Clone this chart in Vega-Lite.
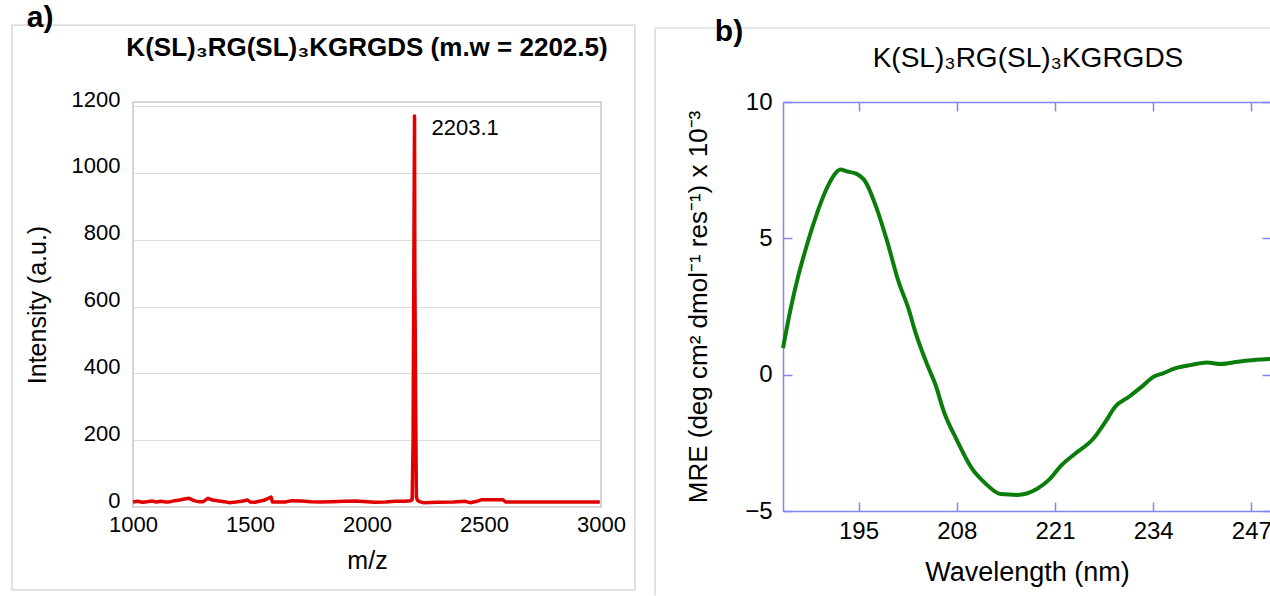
{
  "$schema": "https://vega.github.io/schema/vega-lite/v6.json",
  "padding": {"left": 10, "top": 2, "right": 0, "bottom": 0},
  "background": "white",
  "config": {"font": "Liberation Sans", "axis": {"labelColor": "black", "titleColor": "black", "titleFontWeight": "normal"}},
  "bounds": "flush",
  "spacing": 182,
  "datasets": {
    "ms": [
      {"mz": 1000, "intensity": 15}, {"mz": 1020, "intensity": 17}, {"mz": 1040, "intensity": 14}, {"mz": 1060, "intensity": 16},
      {"mz": 1080, "intensity": 18}, {"mz": 1100, "intensity": 15}, {"mz": 1120, "intensity": 17}, {"mz": 1140, "intensity": 15},
      {"mz": 1160, "intensity": 16}, {"mz": 1180, "intensity": 19}, {"mz": 1200, "intensity": 21}, {"mz": 1220, "intensity": 24},
      {"mz": 1240, "intensity": 26}, {"mz": 1260, "intensity": 19}, {"mz": 1280, "intensity": 16}, {"mz": 1300, "intensity": 16},
      {"mz": 1320, "intensity": 26}, {"mz": 1340, "intensity": 21}, {"mz": 1360, "intensity": 19}, {"mz": 1390, "intensity": 16},
      {"mz": 1410, "intensity": 13}, {"mz": 1440, "intensity": 15}, {"mz": 1470, "intensity": 18}, {"mz": 1490, "intensity": 21},
      {"mz": 1500, "intensity": 15}, {"mz": 1520, "intensity": 14}, {"mz": 1560, "intensity": 20}, {"mz": 1590, "intensity": 30},
      {"mz": 1596, "intensity": 15}, {"mz": 1620, "intensity": 15}, {"mz": 1650, "intensity": 15}, {"mz": 1680, "intensity": 19},
      {"mz": 1720, "intensity": 18}, {"mz": 1760, "intensity": 16}, {"mz": 1800, "intensity": 15}, {"mz": 1850, "intensity": 16},
      {"mz": 1900, "intensity": 17}, {"mz": 1950, "intensity": 18}, {"mz": 2000, "intensity": 16}, {"mz": 2030, "intensity": 14},
      {"mz": 2080, "intensity": 15}, {"mz": 2120, "intensity": 17}, {"mz": 2160, "intensity": 17}, {"mz": 2185, "intensity": 19},
      {"mz": 2193, "intensity": 22}, {"mz": 2197, "intensity": 200}, {"mz": 2200, "intensity": 706}, {"mz": 2203.1, "intensity": 1170},
      {"mz": 2204.5, "intensity": 706}, {"mz": 2208, "intensity": 300}, {"mz": 2211, "intensity": 30}, {"mz": 2216, "intensity": 20},
      {"mz": 2225, "intensity": 16}, {"mz": 2240, "intensity": 13}, {"mz": 2300, "intensity": 14}, {"mz": 2370, "intensity": 15},
      {"mz": 2420, "intensity": 17}, {"mz": 2440, "intensity": 13}, {"mz": 2470, "intensity": 17}, {"mz": 2490, "intensity": 22},
      {"mz": 2540, "intensity": 22}, {"mz": 2580, "intensity": 22}, {"mz": 2592, "intensity": 15}, {"mz": 2700, "intensity": 15},
      {"mz": 2800, "intensity": 15}, {"mz": 2900, "intensity": 15}, {"mz": 2995, "intensity": 15}
    ],
    "peak": [{"mz": 2203.1, "intensity": 1170, "label": "2203.1"}],
    "cd": [
      {"wl": 185.0, "mre": 0.97}, {"wl": 186.0, "mre": 2.4}, {"wl": 187.0, "mre": 3.6}, {"wl": 188.0, "mre": 4.6},
      {"wl": 189.0, "mre": 5.5}, {"wl": 190.0, "mre": 6.3}, {"wl": 191.0, "mre": 6.95}, {"wl": 192.0, "mre": 7.4},
      {"wl": 192.6, "mre": 7.52}, {"wl": 193.5, "mre": 7.45}, {"wl": 194.6, "mre": 7.38}, {"wl": 195.9, "mre": 7.08},
      {"wl": 197.4, "mre": 6.10}, {"wl": 198.8, "mre": 4.88}, {"wl": 200.3, "mre": 3.41}, {"wl": 201.6, "mre": 2.43},
      {"wl": 202.5, "mre": 1.58}, {"wl": 204.1, "mre": 0.36}, {"wl": 205.2, "mre": -0.38}, {"wl": 206.3, "mre": -1.36},
      {"wl": 208.0, "mre": -2.39}, {"wl": 210.0, "mre": -3.44}, {"wl": 211.8, "mre": -3.99}, {"wl": 213.8, "mre": -4.38},
      {"wl": 216.0, "mre": -4.41}, {"wl": 218.6, "mre": -4.19}, {"wl": 220.2, "mre": -3.86}, {"wl": 221.9, "mre": -3.31},
      {"wl": 223.7, "mre": -2.89}, {"wl": 226.1, "mre": -2.34}, {"wl": 227.7, "mre": -1.72}, {"wl": 229.0, "mre": -1.17},
      {"wl": 230.8, "mre": -0.81}, {"wl": 232.5, "mre": -0.44}, {"wl": 234.1, "mre": -0.07}, {"wl": 235.3, "mre": 0.05},
      {"wl": 236.9, "mre": 0.23}, {"wl": 239.1, "mre": 0.36}, {"wl": 241.1, "mre": 0.45}, {"wl": 242.9, "mre": 0.39},
      {"wl": 244.4, "mre": 0.44}, {"wl": 246.2, "mre": 0.51}, {"wl": 248.4, "mre": 0.56}, {"wl": 249.6, "mre": 0.58}
    ]
  },
  "hconcat": [
    {
      "width": 468,
      "height": 405,
      "view": {"stroke": "#c6c6c6", "strokeWidth": 1.5},
      "resolve": {"axis": {"x": "independent", "y": "independent"}},
      "layer": [
        {
          "data": {"name": "ms"},
          "mark": {"type": "line", "color": "#e10000", "strokeWidth": 3.5, "strokeJoin": "round"},
          "encoding": {
            "x": {"field": "mz", "type": "quantitative", "scale": {"domain": [1000, 3000], "nice": false, "zero": false},
              "axis": {"orient": "bottom", "values": [1000, 1500, 2000, 2500, 3000], "format": "d", "title": "m/z", "grid": false, "ticks": false, "domain": false,
                "labelFontSize": 22, "labelPadding": 7, "labelFlush": false, "labelOverlap": false, "titleFontSize": 25, "titlePadding": 13}},
            "y": {"field": "intensity", "type": "quantitative", "scale": {"domain": [0, 1212], "nice": false, "zero": false},
              "axis": {"orient": "left", "values": [0, 200, 400, 600, 800, 1000, 1200], "format": "d", "title": "Intensity (a.u.)", "grid": true, "gridColor": "#dcdcdc", "gridWidth": 1.2,
                "ticks": false, "domain": false, "labelFontSize": 22, "labelPadding": 13, "labelOffset": -7, "labelFlush": false, "labelOverlap": false,
                "titleFontSize": 25, "titlePadding": 21}}
          }
        },
        {
          "data": {"name": "peak"},
          "mark": {"type": "text", "align": "left", "baseline": "middle", "dx": 17, "dy": 12, "fontSize": 22, "color": "black"},
          "encoding": {
            "x": {"field": "mz", "type": "quantitative", "scale": {"domain": [1000, 3000], "nice": false, "zero": false}, "axis": null},
            "y": {"field": "intensity", "type": "quantitative", "scale": {"domain": [0, 1212], "nice": false, "zero": false}, "axis": null},
            "text": {"field": "label"}
          }
        },
        {
          "data": {"values": [{}]},
          "mark": {"type": "rect", "filled": false, "color": "#cfcfcf", "strokeWidth": 1.2},
          "encoding": {
            "x": {"datum": 483, "type": "quantitative", "scale": {"domain": [1000, 3000], "nice": false, "zero": false}, "axis": null},
            "x2": {"datum": 3145},
            "y": {"datum": 1442, "type": "quantitative", "scale": {"domain": [0, 1212], "nice": false, "zero": false}, "axis": null},
            "y2": {"datum": -248}
          }
        },
        {
          "data": {"values": [{}]},
          "mark": {"type": "text", "text": "a)", "fontSize": 30, "fontWeight": "bold", "baseline": "top", "align": "center", "color": "black"},
          "encoding": {
            "x": {"datum": 603, "type": "quantitative", "scale": {"domain": [1000, 3000], "nice": false, "zero": false}, "axis": null},
            "y": {"datum": 1508, "type": "quantitative", "scale": {"domain": [0, 1212], "nice": false, "zero": false}, "axis": null}
          }
        },
        {
          "data": {"values": [{}]},
          "mark": {"type": "text", "text": "K(SL)₃RG(SL)₃KGRGDS (m.w = 2202.5)", "fontSize": 26, "fontWeight": "bold", "baseline": "middle", "align": "center", "color": "black"},
          "encoding": {
            "x": {"datum": 2000, "type": "quantitative", "scale": {"domain": [1000, 3000], "nice": false, "zero": false}, "axis": null},
            "y": {"datum": 1373, "type": "quantitative", "scale": {"domain": [0, 1212], "nice": false, "zero": false}, "axis": null}
          }
        }
      ]
    },
    {
      "width": 488,
      "height": 409,
      "view": {"stroke": null},
      "resolve": {"axis": {"x": "independent", "y": "independent"}},
      "layer": [
        {
          "data": {"name": "cd"},
          "mark": {"type": "line", "color": "#0b7d0b", "strokeWidth": 4, "interpolate": "monotone", "strokeJoin": "round"},
          "encoding": {
            "x": {"field": "wl", "type": "quantitative", "scale": {"domain": [185, 249.6], "nice": false, "zero": false},
              "axis": {"orient": "bottom", "values": [195, 208, 221, 234, 247], "title": "Wavelength (nm)", "grid": false,
                "domain": true, "domainColor": "#8585f0", "domainWidth": 1.5, "tickColor": "#8585f0", "tickWidth": 1.5, "tickSize": -9,
                "labelFontSize": 24, "labelPadding": 17, "labelFlush": false, "labelOverlap": false, "titleFontSize": 27, "titlePadding": 16}},
            "y": {"field": "mre", "type": "quantitative", "scale": {"domain": [-5, 10], "nice": false, "zero": false},
              "axis": {"orient": "left", "values": [-5, 0, 5, 10], "title": "MRE (deg cm² dmol⁻¹ res⁻¹) x 10⁻³", "grid": false,
                "domain": true, "domainColor": "#8585f0", "domainWidth": 1.5, "tickColor": "#8585f0", "tickWidth": 1.5, "tickSize": -9,
                "labelFontSize": 24, "labelPadding": 20, "labelFlush": false, "labelOverlap": false, "titleFontSize": 26, "titlePadding": 33}}
          }
        },
        {
          "data": {"name": "cd"},
          "mark": {"type": "line", "strokeOpacity": 0},
          "encoding": {
            "x": {"field": "wl", "type": "quantitative", "scale": {"domain": [185, 249.6], "nice": false, "zero": false},
              "axis": {"orient": "top", "values": [195, 208, 221, 234, 247], "title": null, "labels": false, "grid": false,
                "domain": true, "domainColor": "#8585f0", "domainWidth": 1.5, "tickColor": "#8585f0", "tickWidth": 1.5, "tickSize": -9}},
            "y": {"field": "mre", "type": "quantitative", "scale": {"domain": [-5, 10], "nice": false, "zero": false},
              "axis": {"orient": "right", "values": [-5, 0, 5, 10], "title": null, "labels": false, "grid": false,
                "domain": false, "tickColor": "#8585f0", "tickWidth": 1.5, "tickSize": -9}}
          }
        },
        {
          "data": {"values": [{}]},
          "mark": {"type": "rule", "color": "#d0d0d0", "strokeWidth": 1.2},
          "encoding": {
            "x": {"datum": 168.06, "type": "quantitative", "scale": {"domain": [185, 249.6], "nice": false, "zero": false}, "axis": null},
            "y": {"datum": 12.714, "type": "quantitative", "scale": {"domain": [-5, 10], "nice": false, "zero": false}, "axis": null},
            "y2": {"datum": -8.1}
          }
        },
        {
          "data": {"values": [{}]},
          "mark": {"type": "rule", "color": "#d0d0d0", "strokeWidth": 1.2},
          "encoding": {
            "x": {"datum": 168.06, "type": "quantitative", "scale": {"domain": [185, 249.6], "nice": false, "zero": false}, "axis": null},
            "x2": {"datum": 249.6},
            "y": {"datum": 12.714, "type": "quantitative", "scale": {"domain": [-5, 10], "nice": false, "zero": false}, "axis": null}
          }
        },
        {
          "data": {"values": [{}]},
          "mark": {"type": "text", "text": "b)", "fontSize": 30, "fontWeight": "bold", "baseline": "top", "align": "center", "color": "black"},
          "encoding": {
            "x": {"datum": 177.85, "type": "quantitative", "scale": {"domain": [185, 249.6], "nice": false, "zero": false}, "axis": null},
            "y": {"datum": 13.11, "type": "quantitative", "scale": {"domain": [-5, 10], "nice": false, "zero": false}, "axis": null}
          }
        },
        {
          "data": {"values": [{}]},
          "mark": {"type": "text", "text": "K(SL)₃RG(SL)₃KGRGDS", "fontSize": 28, "baseline": "middle", "align": "center", "color": "black"},
          "encoding": {
            "x": {"datum": 217.43, "type": "quantitative", "scale": {"domain": [185, 249.6], "nice": false, "zero": false}, "axis": null},
            "y": {"datum": 11.577, "type": "quantitative", "scale": {"domain": [-5, 10], "nice": false, "zero": false}, "axis": null}
          }
        }
      ]
    }
  ]
}
